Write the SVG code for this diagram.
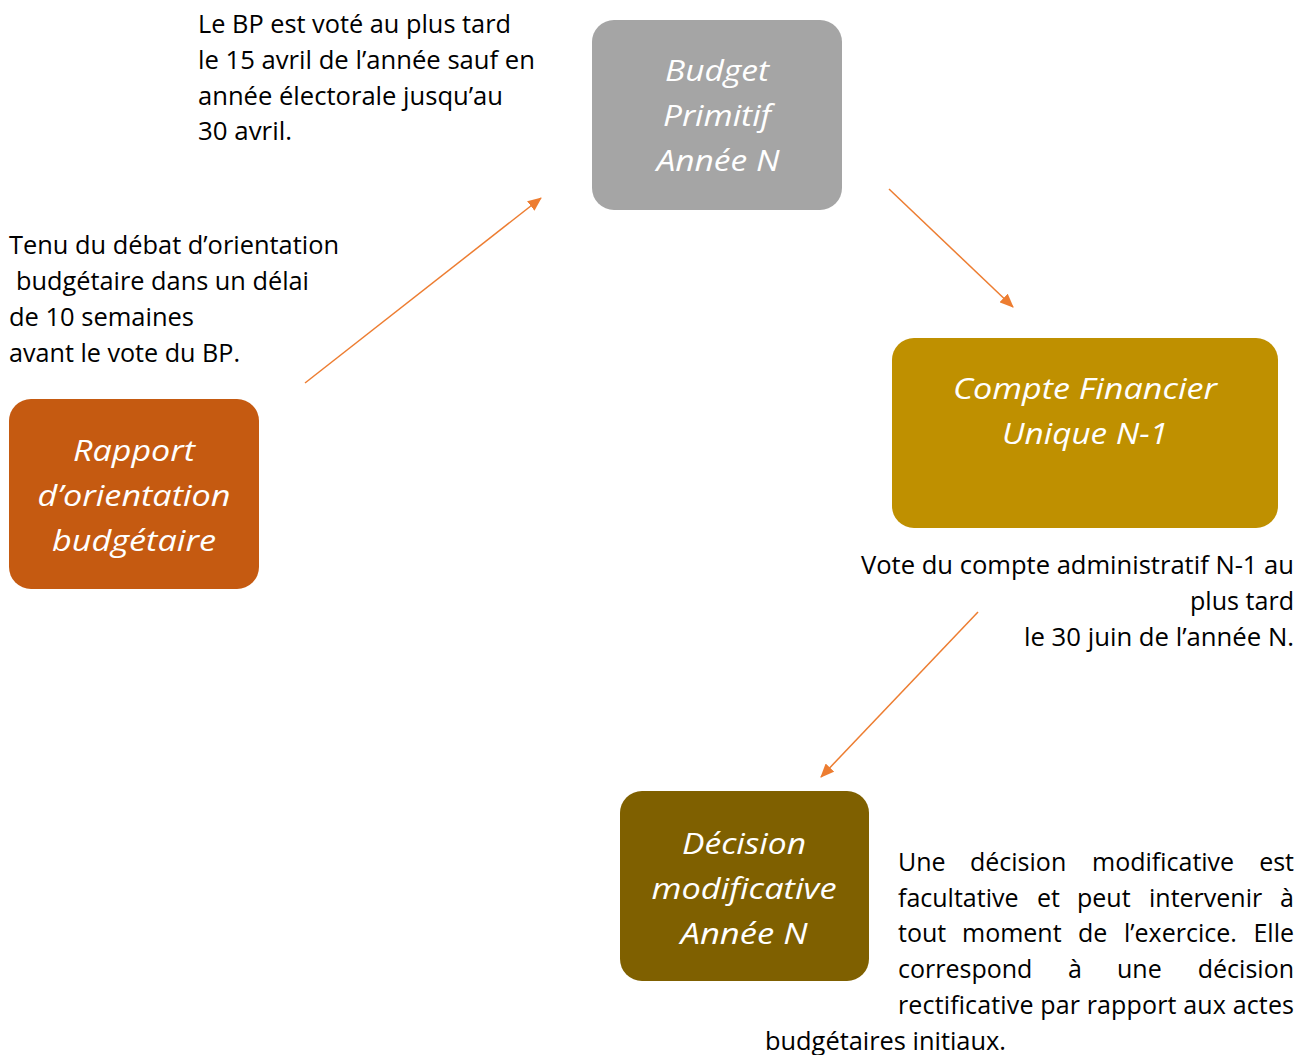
<svg xmlns="http://www.w3.org/2000/svg" width="1308" height="1055" viewBox="0 0 1308 1055">
<defs>
<style>
.box-t{font-family:"Open Sans","DejaVu Sans",sans-serif;font-style:italic;font-size:30px;fill:#ffffff;text-anchor:middle}
.note{font-family:"Open Sans","DejaVu Sans",sans-serif;font-size:25px;fill:#000000}
.end{text-anchor:end}
.conn{stroke:#ED7D31;stroke-width:1.5;fill:none;marker-end:url(#ah)}
</style>
<marker id="ah" viewBox="0 0 14 12" refX="13" refY="6" markerWidth="14" markerHeight="12" markerUnits="userSpaceOnUse" orient="auto">
<path d="M0,0 L14,6 L0,12 z" fill="#ED7D31"/>
</marker>
</defs>
<rect width="1308" height="1055" fill="#ffffff"/>

<g id="connectors">
<line class="conn" x1="305" y1="383" x2="541" y2="198"/>
<line class="conn" x1="889" y1="189" x2="1013" y2="307"/>
<line class="conn" x1="978" y1="612" x2="821" y2="777"/>
</g>

<g id="node-bp">
<rect x="592" y="20" width="250" height="190" rx="22" fill="#A5A5A5"/>
<text class="box-t" x="717" y="81" textLength="104" lengthAdjust="spacingAndGlyphs">Budget</text>
<text class="box-t" x="717" y="126" textLength="108" lengthAdjust="spacingAndGlyphs">Primitif</text>
<text class="box-t" x="718" y="171" textLength="123" lengthAdjust="spacingAndGlyphs">Année N</text>
</g>

<g id="node-cfu">
<rect x="892" y="338" width="386" height="190" rx="22" fill="#BF9000"/>
<text class="box-t" x="1085" y="399" textLength="264" lengthAdjust="spacingAndGlyphs">Compte Financier</text>
<text class="box-t" x="1085" y="444" textLength="166" lengthAdjust="spacingAndGlyphs">Unique N-1</text>
</g>

<g id="node-rob">
<rect x="9" y="399" width="250" height="190" rx="22" fill="#C55A11"/>
<text class="box-t" x="134" y="461" textLength="122" lengthAdjust="spacingAndGlyphs">Rapport</text>
<text class="box-t" x="134" y="506" textLength="193" lengthAdjust="spacingAndGlyphs">d’orientation</text>
<text class="box-t" x="134" y="551" textLength="164" lengthAdjust="spacingAndGlyphs">budgétaire</text>
</g>

<g id="node-dm">
<rect x="620" y="791" width="249" height="190" rx="22" fill="#7F6000"/>
<text class="box-t" x="744" y="854" textLength="124" lengthAdjust="spacingAndGlyphs">Décision</text>
<text class="box-t" x="744" y="899" textLength="185" lengthAdjust="spacingAndGlyphs">modificative</text>
<text class="box-t" x="744" y="944" textLength="127" lengthAdjust="spacingAndGlyphs">Année N</text>
</g>

<g id="note-bp">
<text class="note" x="198" y="33" textLength="313" lengthAdjust="spacingAndGlyphs">Le BP est voté au plus tard</text>
<text class="note" x="198" y="69" textLength="337" lengthAdjust="spacingAndGlyphs">le 15 avril de l’année sauf en</text>
<text class="note" x="198" y="105" textLength="305" lengthAdjust="spacingAndGlyphs">année électorale jusqu’au</text>
<text class="note" x="198" y="140" textLength="94" lengthAdjust="spacingAndGlyphs">30 avril.</text>
</g>

<g id="note-rob">
<text class="note" x="9" y="254" textLength="330" lengthAdjust="spacingAndGlyphs">Tenu du débat d’orientation</text>
<text class="note" x="16" y="290" textLength="293" lengthAdjust="spacingAndGlyphs">budgétaire dans un délai</text>
<text class="note" x="9" y="326" textLength="185" lengthAdjust="spacingAndGlyphs">de 10 semaines</text>
<text class="note" x="9" y="362" textLength="231" lengthAdjust="spacingAndGlyphs">avant le vote du BP.</text>
</g>

<g id="note-cfu">
<text class="note" x="861" y="574" textLength="433" lengthAdjust="spacingAndGlyphs">Vote du compte administratif N-1 au</text>
<text class="note" x="1190" y="610" textLength="104" lengthAdjust="spacingAndGlyphs">plus tard</text>
<text class="note" x="1024" y="646" textLength="270" lengthAdjust="spacingAndGlyphs">le 30 juin de l’année N.</text>
</g>

<g id="note-dm">
<text class="note" x="898" y="871">Une</text>
<text class="note" x="970" y="871">décision</text>
<text class="note" x="1092" y="871">modificative</text>
<text class="note end" x="1294" y="871">est</text>
<text class="note" x="898" y="907">facultative</text>
<text class="note" x="1037" y="907">et</text>
<text class="note" x="1077" y="907">peut</text>
<text class="note" x="1149" y="907">intervenir</text>
<text class="note end" x="1294" y="907">à</text>
<text class="note" x="898" y="942">tout</text>
<text class="note" x="962" y="942">moment</text>
<text class="note" x="1078" y="942">de</text>
<text class="note" x="1124" y="942">l’exercice.</text>
<text class="note end" x="1294" y="942">Elle</text>
<text class="note" x="898" y="978">correspond</text>
<text class="note" x="1068" y="978">à</text>
<text class="note" x="1117" y="978">une</text>
<text class="note end" x="1294" y="978">décision</text>
<text class="note" x="898" y="1014" textLength="396" lengthAdjust="spacing">rectificative par rapport aux actes</text>
<text class="note" x="765" y="1050" textLength="241" lengthAdjust="spacingAndGlyphs">budgétaires initiaux.</text>
</g>
</svg>
